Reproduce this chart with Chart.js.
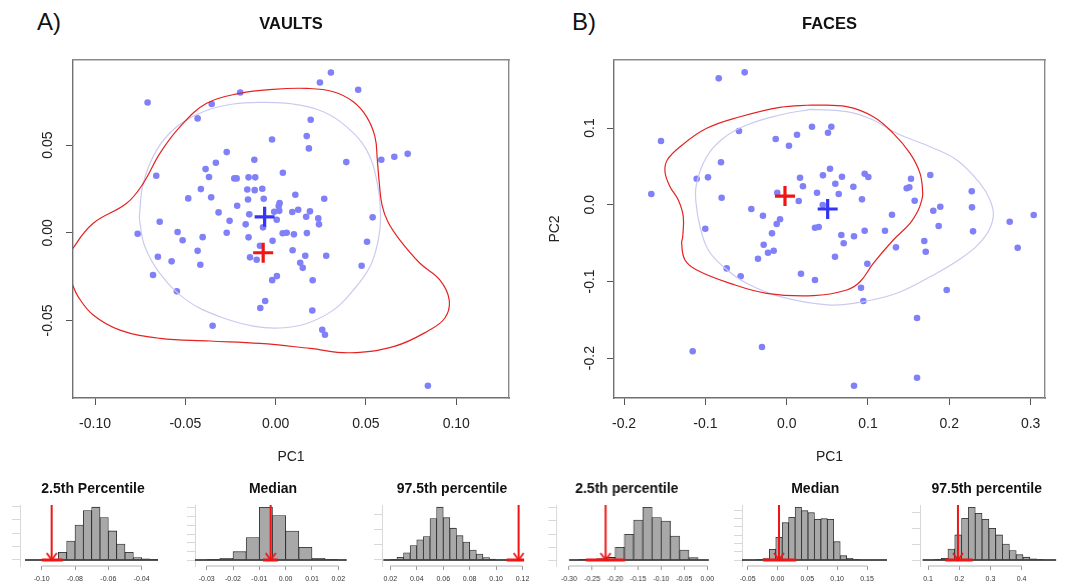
<!DOCTYPE html>
<html><head><meta charset="utf-8">
<script src="https://cdn.jsdelivr.net/npm/chart.js@4.4.1/dist/chart.umd.min.js"></script>
<style>
html,body{margin:0;padding:0;background:#fff;width:1068px;height:585px;overflow:hidden;font-family:"Liberation Sans",Arial,sans-serif;}
.cv{position:absolute;}
.lab{position:absolute;font-size:24px;line-height:24px;color:#111;}
</style></head><body>
<div class="lab" style="left:37px;top:10px">A)</div>
<div class="lab" style="left:572px;top:10px">B)</div>
<div class="cv" style="left:0px;top:0px;width:530px;height:470px"><canvas id="cA"></canvas></div>
<div class="cv" style="left:530px;top:0px;width:538px;height:470px"><canvas id="cB"></canvas></div>
<div class="cv" style="left:10px;top:475px;width:166px;height:110px"><canvas id="h1"></canvas></div>
<div class="cv" style="left:185px;top:475px;width:176px;height:110px"><canvas id="h2"></canvas></div>
<div class="cv" style="left:371.7px;top:475px;width:160px;height:110px"><canvas id="h3"></canvas></div>
<div class="cv" style="left:537.4px;top:475px;width:178.6px;height:110px"><canvas id="h4"></canvas></div>
<div class="cv" style="left:731.7px;top:475px;width:166.6px;height:110px"><canvas id="h5"></canvas></div>
<div class="cv" style="left:910px;top:475px;width:153.4px;height:110px"><canvas id="h6"></canvas></div>
<script>
// ---------- DATA: panel A (VAULTS) ----------
const vaultPC1 = [-0.0709,-0.0196,-0.0354,-0.0432,0.0245,0.0306,0.0457,0.0194,-0.0020,0.0172,0.0184,-0.0118,-0.0271,-0.0331,-0.0388,-0.0369,-0.0661,0.0391,0.0585,0.0657,0.0731,0.0040,-0.0229,-0.0216,-0.0150,-0.0113,-0.0414,-0.0157,-0.0116,-0.0074,-0.0484,-0.0357,-0.0153,-0.0066,0.0109,0.0269,-0.0213,0.0022,0.0017,-0.0316,-0.0146,-0.0008,0.0020,0.0092,0.0125,0.0190,0.0169,0.0236,0.0240,0.0537,-0.0255,-0.0166,0.0006,-0.0070,-0.0642,-0.0764,-0.0543,-0.0515,-0.0404,-0.0271,-0.0150,-0.0017,0.0039,0.0061,0.0101,0.0173,0.0506,-0.0087,-0.0432,0.0094,-0.0652,-0.0576,-0.0417,-0.0142,-0.0105,0.0164,0.0280,0.0136,0.0150,0.0476,-0.0679,-0.0019,0.0007,0.0205,-0.0547,-0.0058,-0.0085,0.0203,-0.0349,0.0258,0.0273,0.0843];
const vaultPC2 = [0.0743,0.0800,0.0734,0.0652,0.0857,0.0914,0.0815,0.0644,0.0532,0.0551,0.0481,0.0416,0.0460,0.0399,0.0363,0.0318,0.0325,0.0403,0.0416,0.0433,0.0450,0.0342,0.0310,0.0310,0.0316,0.0316,0.0249,0.0247,0.0243,0.0251,0.0196,0.0202,0.0190,0.0194,0.0217,0.0194,0.0154,0.0169,0.0152,0.0116,0.0105,0.0120,0.0125,0.0118,0.0131,0.0122,0.0091,0.0082,0.0048,0.0088,0.0068,0.0048,0.0074,0.0031,0.0063,-0.0006,0.0004,-0.0043,-0.0025,0.0000,-0.0026,-0.0046,-0.0003,0.0000,-0.0009,-0.0002,-0.0051,-0.0074,-0.0103,-0.0100,-0.0137,-0.0163,-0.0182,-0.0140,-0.0154,-0.0131,-0.0131,-0.0171,-0.0200,-0.0188,-0.0241,-0.0270,-0.0247,-0.0271,-0.0334,-0.0389,-0.0429,-0.0443,-0.0530,-0.0553,-0.0581,-0.0872];
const vaultLavX = [-0.0755,-0.0733,-0.0659,-0.0548,-0.0401,-0.0235,-0.0069,0.0097,0.0264,0.0393,0.0504,0.0563,0.0581,0.0568,0.0522,0.0430,0.0319,0.0172,0.0024,-0.0124,-0.0308,-0.0493,-0.0641,-0.0724,-0.0751,-0.0755];
const vaultLavY = [0.0091,0.0282,0.0471,0.0604,0.0690,0.0734,0.0743,0.0734,0.0690,0.0604,0.0471,0.0282,0.0091,-0.0042,-0.0194,-0.0327,-0.0441,-0.0517,-0.0543,-0.0532,-0.0479,-0.0384,-0.0231,-0.0080,0.0054,0.0091];
const vaultRedX = [-0.1167,-0.1121,-0.1010,-0.0825,-0.0733,-0.0641,-0.0530,-0.0382,-0.0198,-0.0013,0.0172,0.0319,0.0430,0.0504,0.0550,0.0563,0.0574,0.0589,0.0622,0.0688,0.0799,0.0910,0.0961,0.0937,0.0843,0.0661,0.0411,0.0190,-0.0087,-0.0364,-0.0641,-0.0862,-0.1010,-0.1093,-0.1128,-0.1167];
const vaultRedY = [-0.0184,-0.0087,0.0054,0.0168,0.0282,0.0453,0.0604,0.0738,0.0795,0.0818,0.0823,0.0804,0.0747,0.0661,0.0547,0.0414,0.0282,0.0158,0.0061,-0.0042,-0.0174,-0.0270,-0.0384,-0.0486,-0.0560,-0.0646,-0.0684,-0.0659,-0.0631,-0.0617,-0.0602,-0.0555,-0.0469,-0.0365,-0.0287,-0.0184];
const vaultMean = [-0.0061, 0.0091];
const vaultObs = [-0.0069, -0.0114];
const vaultXTicks = [-0.10,-0.05,0,0.05,0.10];
const vaultXLabels = ['-0.10','-0.05','0.00','0.05','0.10'];
const vaultYTicks = [-0.05,0,0.05];
const vaultYLabels = ['-0.05','0.00','0.05'];

// ---------- DATA: panel B (FACES) ----------
const facePC1 = [-0.0836,-0.0517,-0.1546,-0.0587,-0.0135,0.0028,0.0127,0.0311,0.0508,0.0549,-0.0808,-0.1665,-0.1107,-0.0968,-0.0800,0.0164,0.0200,0.0446,0.0533,0.0680,0.0598,0.0820,0.0373,0.0640,0.0959,0.1004,0.0926,-0.0116,0.0148,0.0443,0.1476,0.1508,0.1529,0.1766,0.1574,0.2276,0.2279,0.1889,0.1803,0.1295,0.3038,0.2743,-0.0435,-0.0292,-0.0082,-0.0123,-0.1001,-0.0181,0.0348,0.0394,0.0672,0.0828,0.0959,0.1209,0.1869,0.2292,0.0701,-0.0283,0.1344,0.1692,0.2841,0.1710,-0.0230,-0.0160,-0.0353,0.0594,0.0992,-0.0738,-0.0566,0.0176,0.0348,0.0914,0.0943,0.1968,0.1603,-0.1156,-0.0304,0.1603,0.0828];
const facePC2 = [0.1648,0.1726,0.0830,0.0961,0.0857,0.0769,0.0913,0.1017,0.0939,0.1017,0.0553,0.0140,0.0339,0.0357,0.0091,0.0352,0.0240,0.0383,0.0469,0.0365,0.0274,0.0235,0.0157,0.0140,0.0404,0.0361,0.0070,0.0157,0.0048,-0.0004,0.0214,0.0227,0.0339,0.0387,0.0052,0.0175,-0.0034,-0.0026,-0.0078,-0.0130,-0.0134,-0.0222,-0.0056,-0.0143,-0.0190,-0.0252,-0.0313,-0.0373,-0.0300,-0.0291,-0.0395,-0.0412,-0.0339,-0.0339,-0.0278,-0.0347,-0.0503,-0.0521,-0.0556,-0.0473,-0.0561,-0.0613,-0.0626,-0.0600,-0.0704,-0.0678,-0.0769,-0.0830,-0.0934,-0.0900,-0.0982,-0.1082,-0.1256,-0.1112,-0.1477,-0.1911,-0.1855,-0.2256,-0.2360];
const faceLavX = [0.0287,-0.0082,-0.0492,-0.0780,-0.0984,-0.1107,-0.1119,-0.1066,-0.0964,-0.0780,-0.0492,-0.0082,0.0533,0.0942,0.1353,0.1763,0.2172,0.2439,0.2541,0.2501,0.2378,0.2091,0.1763,0.1353,0.1065,0.0738,0.0287];
const faceLavY = [0.1244,0.1170,0.1039,0.0866,0.0626,0.0279,0.0061,-0.0287,-0.0591,-0.0808,-0.1025,-0.1199,-0.1308,-0.1265,-0.1155,-0.0939,-0.0678,-0.0417,-0.0156,0.0061,0.0279,0.0583,0.0756,0.0931,0.1104,0.1213,0.1244];
const faceRedX = [0.0308,-0.0082,-0.0574,-0.0984,-0.1312,-0.1469,-0.1497,-0.1435,-0.1333,-0.1272,-0.1279,-0.1292,-0.1251,-0.1107,-0.0697,-0.0246,0.0327,0.0738,0.0902,0.1065,0.1311,0.1517,0.1619,0.1661,0.1673,0.1640,0.1517,0.1311,0.1065,0.0738,0.0308];
const faceRedY = [0.1300,0.1270,0.1147,0.0996,0.0756,0.0583,0.0430,0.0235,0.0061,-0.0156,-0.0417,-0.0503,-0.0721,-0.0851,-0.1025,-0.1155,-0.1186,-0.1112,-0.1004,-0.0764,-0.0460,-0.0243,-0.0069,0.0061,0.0149,0.0409,0.0670,0.0931,0.1147,0.1278,0.1300];
const faceMean = [0.0504, -0.0056];
const faceObs = [-0.0021, 0.0113];
const faceXTicks = [-0.2,-0.1,0,0.1,0.2,0.3];
const faceXLabels = ['-0.2','-0.1','0.0','0.1','0.2','0.3'];
const faceYTicks = [-0.2,-0.1,0,0.1];
const faceYLabels = ['-0.2','-0.1','0.0','0.1'];

// ---------- DATA: null-distribution histograms ----------
const h1Mids = [-0.0925,-0.0875,-0.0825,-0.0775,-0.0725,-0.0675,-0.0625,-0.0575,-0.0525,-0.0475,-0.0425,-0.0375,-0.0325];
const h1Counts = [3,29,71,131,185,198,159,109,60,29,9,4,1];
const h1Range = [-0.11,-0.03];
const h1Obs = -0.094, h1Band = [-0.10,-0.0874];
const h1Ticks = [-0.10,-0.08,-0.06,-0.04], h1Labels = ['-0.10','-0.08','-0.06','-0.04'];
const h1YTicks = [0,50,100,150,200];

const h2Mids = [-0.0275,-0.0225,-0.0175,-0.0125,-0.0075,-0.0025,0.0025,0.0075,0.0125,0.0175];
const h2Counts = [2,10,48,129,304,256,167,73,10,2];
const h2Range = [-0.0345,0.0232];
const h2Obs = -0.0057, h2Band = [-0.0086,-0.0029];
const h2Ticks = [-0.03,-0.02,-0.01,0,0.01,0.02], h2Labels = ['-0.03','-0.02','-0.01','0.00','0.01','0.02'];
const h2YTicks = [0,50,100,150,200,250,300];

const h3Mids = [0.0225,0.0275,0.0325,0.0375,0.0425,0.0475,0.0525,0.0575,0.0625,0.0675,0.0725,0.0775,0.0825,0.0875,0.0925,0.0975];
const h3Counts = [2,9,24,48,67,78,138,176,141,106,81,60,33,20,8,3];
const h3Range = [0.0147,0.1205];
const h3Obs = 0.117, h3Band = [0.108,0.1213];
const h3Ticks = [0.02,0.04,0.06,0.08,0.10,0.12], h3Labels = ['0.02','0.04','0.06','0.08','0.10','0.12'];
const h3YTicks = [0,50,100,150];

const h4Mids = [-0.27,-0.25,-0.23,-0.21,-0.19,-0.17,-0.15,-0.13,-0.11,-0.09,-0.07,-0.05,-0.03];
const h4Counts = [1,3,6,10,49,99,154,203,163,150,92,38,9];
const h4Range = [-0.30,0.0035];
const h4Obs = -0.2207, h4Band = [-0.2636,-0.1785];
const h4Ticks = [-0.30,-0.25,-0.20,-0.15,-0.10,-0.05,0], h4Labels = ['-0.30','-0.25','-0.20','-0.15','-0.10','-0.05','0.00'];
const h4YTicks = [0,50,100,150,200];

const h5Mids = [-0.0299,-0.0191,-0.0083,0.0025,0.0133,0.0241,0.0349,0.0457,0.0565,0.0673,0.0781,0.0889,0.0997,0.1105,0.1213,0.1321];
const h5Counts = [2,8,64,136,224,256,316,296,284,244,248,244,110,26,10,4];
const h5Range = [-0.0595,0.1835];
const h5Obs = 0.0025, h5Band = [-0.0243,0.0316];
const h5Ticks = [-0.05,0,0.05,0.10,0.15], h5Labels = ['-0.05','0.00','0.05','0.10','0.15'];
const h5YTicks = [0,50,100,150,200,250,300];

const h6Mids = [0.1308,0.1527,0.1746,0.1965,0.2184,0.2403,0.2622,0.2841,0.3060,0.3279,0.3498,0.3717,0.3936,0.4155,0.4374,0.4593];
const h6Counts = [2,5,35,80,133,168,149,130,101,80,51,30,17,9,4,2];
const h6Range = [0.0823,0.5115];
const h6Obs = 0.1958, h6Band = [0.1552,0.2427];
const h6Ticks = [0.1,0.2,0.3,0.4], h6Labels = ['0.1','0.2','0.3','0.4'];
const h6YTicks = [0,50,100,150];

// ---------- DRAWING ----------
const FONT = '"Liberation Sans", Arial, sans-serif';
Chart.defaults.font.family = FONT;
const RED = '#f01414';
const pairs = (xs, ys) => xs.map((x, i) => ({x, y: ys[i]}));

function scatterChart(id, o) {
  return new Chart(document.getElementById(id), {
    type: 'scatter',
    data: { datasets: [
      {data: pairs(o.px, o.py), pointRadius: 3.3, pointBackgroundColor: 'rgb(128,128,248)', pointBorderWidth: 0, order: 4},
      {data: pairs(o.lavX, o.lavY), showLine: true, pointRadius: 0, borderColor: '#cacaf0', borderWidth: 1.2, tension: 0.4, order: 3},
      {data: pairs(o.redX, o.redY), showLine: true, pointRadius: 0, borderColor: '#e42222', borderWidth: 1.2, tension: 0.4, order: 2},
      {data: [{x: o.mean[0], y: o.mean[1]}], pointStyle: 'cross', pointRadius: 10, pointBorderColor: '#3434f2', pointBorderWidth: 3.2, order: 1},
      {data: [{x: o.obs[0], y: o.obs[1]}], pointStyle: 'cross', pointRadius: 10, pointBorderColor: RED, pointBorderWidth: 3.2, order: 0}
    ]},
    options: {
      responsive: true, maintainAspectRatio: false, animation: false, events: [],
      layout: {padding: 0},
      plugins: {legend: {display: false}, tooltip: {enabled: false},
        title: {display: true, text: o.title, fullSize: false, color: '#111', font: {size: 16.5, weight: 'bold'}, padding: {top: 15, bottom: 25.2}}},
      scales: {
        x: {type: 'linear', position: 'bottom', min: o.xMin, max: o.xMax,
          afterBuildTicks: s => { s.ticks = o.xTicks.map(v => ({value: v})); },
          afterFit: s => { s.height = 72; s.paddingLeft = 0; s.paddingRight = 0; },
          ticks: {autoSkip: false, maxRotation: 0, minRotation: 0, padding: 10.5, color: '#222', font: {size: 14}, callback: (v, i) => o.xLabels[i]},
          grid: {drawOnChartArea: false, drawTicks: true, tickLength: 7, color: '#555'},
          border: {display: true, color: '#707070', width: 1.4},
          title: {display: true, text: 'PC1', color: '#222', font: {size: 14}, padding: {top: 0, bottom: 4.6}}},
        y: {type: 'linear', position: 'left', min: o.yMin, max: o.yMax,
          afterBuildTicks: s => { s.ticks = o.yTicks.map(v => ({value: v})); },
          afterFit: s => { s.width = o.yW; s.paddingTop = 0; s.paddingBottom = 0; },
          ticks: {autoSkip: false, minRotation: 90, maxRotation: 90, crossAlign: 'center', padding: o.yPad, color: '#222', font: {size: 14}, callback: (v, i) => o.yLabels[i]},
          grid: {drawOnChartArea: false, drawTicks: true, tickLength: 7, color: '#555'},
          border: {display: true, color: '#707070', width: 1.4},
          title: {display: !!o.yTitle, text: o.yTitle || '', color: '#222', font: {size: 14}, padding: {top: o.yTitlePad, bottom: 0}}},
        xTop: {type: 'linear', position: 'top', display: true, ticks: {display: false}, grid: {display: false, drawTicks: false},
          border: {display: true, color: '#8a8a8a', width: 1.4}, afterFit: s => { s.height = 0; }},
        yRight: {type: 'linear', position: 'right', display: true, ticks: {display: false}, grid: {display: false, drawTicks: false},
          border: {display: true, color: '#8a8a8a', width: 1.4}, afterFit: s => { s.width = o.rightW; }}
      }
    }
  });
}

scatterChart('cA', {title: 'VAULTS', px: vaultPC1, py: vaultPC2, lavX: vaultLavX, lavY: vaultLavY, redX: vaultRedX, redY: vaultRedY,
  mean: vaultMean, obs: vaultObs, xMin: -0.1122, xMax: 0.1292, yMin: -0.0942, yMax: 0.0985,
  xTicks: vaultXTicks, xLabels: vaultXLabels, yTicks: vaultYTicks, yLabels: vaultYLabels, yW: 73, yPad: 2, rightW: 21});
scatterChart('cB', {title: 'FACES', px: facePC1, py: facePC2, lavX: faceLavX, lavY: faceLavY, redX: faceRedX, redY: faceRedY,
  mean: faceMean, obs: faceObs, xMin: -0.2124, xMax: 0.3177, yMin: -0.252, yMax: 0.1887,
  xTicks: faceXTicks, xLabels: faceXLabels, yTicks: faceYTicks, yLabels: faceYLabels, yW: 84, yPad: 4.9, rightW: 23,
  yTitle: 'PC2', yTitlePad: 16.6});

// arrow head as an open chevron point style
const CHEV = (() => { const c = document.createElement('canvas'); c.width = 12; c.height = 16;
  const g = c.getContext('2d'); g.strokeStyle = RED; g.lineWidth = 1.8; g.lineJoin = 'miter';
  g.beginPath(); g.moveTo(1, 1); g.lineTo(6, 8); g.lineTo(11, 1); g.stroke(); return c; })();

function histChart(id, o) {
  const last = o.ticks.length - 1;
  return new Chart(document.getElementById(id), {
    type: 'bar',
    data: { datasets: [
      {type: 'line', data: [{x: o.obs, y: o.yMax}, {x: o.obs, y: 0}], borderColor: RED, borderWidth: 2, pointRadius: 0, order: 0},
      {type: 'line', data: [{x: o.obs, y: 0}], showLine: false, pointStyle: CHEV, pointRadius: 6, order: 0},
      {type: 'line', data: [{x: o.band[0], y: 0}, {x: o.band[1], y: 0}], borderColor: RED, borderWidth: 3, pointRadius: 0, order: 1},
      {type: 'line', data: [{x: o.range[0], y: 0}, {x: o.range[1], y: 0}], borderColor: '#1a1a1a', borderWidth: 1.3, pointRadius: 0, order: 2},
      {type: 'bar', data: o.mids.map((m, i) => ({x: m, y: o.counts[i]})), backgroundColor: '#a8a8a8', borderColor: '#262626',
        borderWidth: 0.8, barPercentage: 1, categoryPercentage: 1, order: 3},
      {type: 'line', data: [{x: o.ticks[0], y: o.yMin}, {x: o.ticks[last], y: o.yMin}], borderColor: '#b4b4b4', borderWidth: 1, pointRadius: 0, clip: false, order: 4}
    ]},
    options: {
      responsive: true, maintainAspectRatio: false, animation: false, events: [],
      layout: {padding: 0},
      plugins: {legend: {display: false}, tooltip: {enabled: false},
        title: {display: true, text: o.title, color: '#111', font: {size: 14, weight: 'bold'}, padding: {top: 5.6, bottom: 7.6}}},
      scales: {
        x: {type: 'linear', offset: false, min: o.xMin, max: o.xMax,
          afterBuildTicks: s => { s.ticks = o.ticks.map(v => ({value: v})); },
          afterFit: s => { s.height = 19; s.paddingLeft = 0; s.paddingRight = 0; },
          ticks: {autoSkip: false, maxRotation: 0, minRotation: 0, padding: 4.5, color: '#333', font: {size: 7}, callback: (v, i) => o.labels[i]},
          grid: {offset: false, drawOnChartArea: false, drawTicks: true, tickLength: 4, color: '#9a9a9a'},
          border: {display: false}},
        y: {type: 'linear', min: o.yMin, max: o.yMax,
          afterBuildTicks: s => { s.ticks = o.yTicks.map(v => ({value: v})); },
          afterFit: s => { s.width = o.yW; s.paddingTop = 0; s.paddingBottom = 0; },
          ticks: {display: false},
          grid: {drawOnChartArea: false, drawTicks: true, tickLength: 8, color: '#d8d8d8'},
          border: {display: true, color: '#d8d8d8'}},
        yR: {type: 'linear', position: 'right', display: true, ticks: {display: false}, grid: {display: false, drawTicks: false},
          border: {display: false}, afterFit: s => { s.width = o.y2W; }}
      }
    }
  });
}

histChart('h1', {title: '2.5th Percentile', mids: h1Mids, counts: h1Counts, range: h1Range, obs: h1Obs, band: h1Band,
  ticks: h1Ticks, labels: h1Labels, yTicks: h1YTicks, xMin: -0.1130, xMax: -0.0302, yMin: -22.5, yMax: 206.2, yW: 10, y2W: 18});
histChart('h2', {title: 'Median', mids: h2Mids, counts: h2Counts, range: h2Range, obs: h2Obs, band: h2Band,
  ticks: h2Ticks, labels: h2Labels, yTicks: h2YTicks, xMin: -0.03444, xMax: 0.0233, yMin: -34.6, yMax: 317.3, yW: 10, y2W: 14});
histChart('h3', {title: '97.5th percentile', mids: h3Mids, counts: h3Counts, range: h3Range, obs: h3Obs, band: h3Band,
  ticks: h3Ticks, labels: h3Labels, yTicks: h3YTicks, xMin: 0.0137, xMax: 0.1213, yMin: -20, yMax: 183.3, yW: 10, y2W: 7.7});
histChart('h4', {title: '2.5th percentile', mids: h4Mids, counts: h4Counts, range: h4Range, obs: h4Obs, band: h4Band,
  ticks: h4Ticks, labels: h4Labels, yTicks: h4YTicks, xMin: -0.3275, xMax: 0.0035, yMin: -23, yMax: 211.5, yW: 19.3, y2W: 7.7});
histChart('h5', {title: 'Median', mids: h5Mids, counts: h5Counts, range: h5Range, obs: h5Obs, band: h5Band,
  ticks: h5Ticks, labels: h5Labels, yTicks: h5YTicks, xMin: -0.0595, xMax: 0.1835, yMin: -36, yMax: 330, yW: 10, y2W: 11.6});
histChart('h6', {title: '97.5th percentile', mids: h6Mids, counts: h6Counts, range: h6Range, obs: h6Obs, band: h6Band,
  ticks: h6Ticks, labels: h6Labels, yTicks: h6YTicks, xMin: 0.0741, xMax: 0.5116, yMin: -19.1, yMax: 175.5, yW: 10, y2W: 3.4});
</script>
</body></html>
